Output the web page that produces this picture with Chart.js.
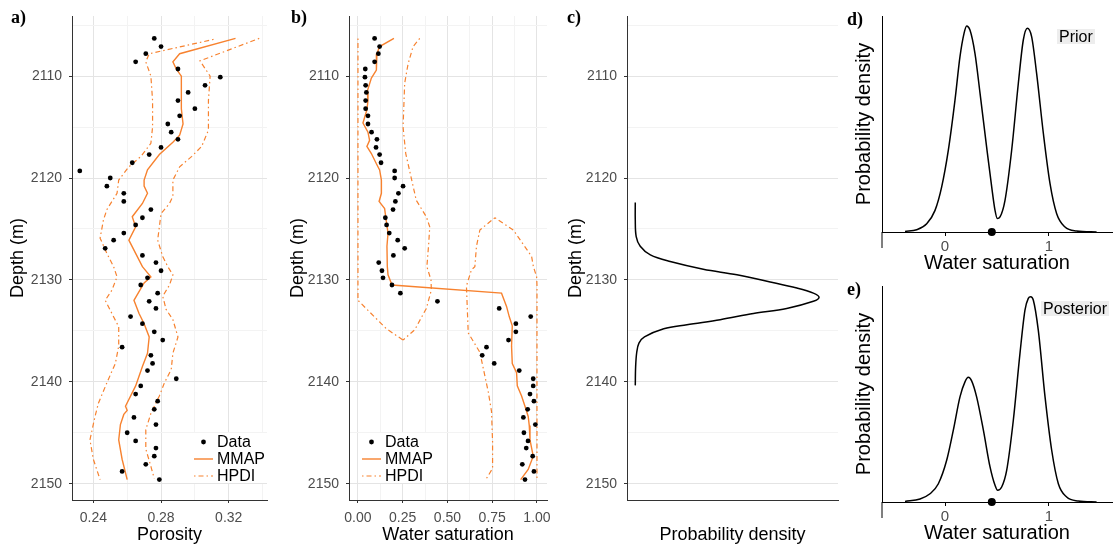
<!DOCTYPE html>
<html>
<head>
<meta charset="utf-8">
<script src="https://cdn.jsdelivr.net/npm/chart.js@4.4.1/dist/chart.umd.min.js"></script>
<style>
  body { margin: 0; background: #fff; width: 1119px; height: 547px; position: relative; overflow: hidden; font-family: "Liberation Sans", Arial, sans-serif; }
  canvas, .lab, .tag { position: absolute; }
  .lab { font-family: "Liberation Serif", "Times New Roman", serif; font-weight: bold; font-size: 18px; line-height: 18px; }
  .tag { background: #ededed; font-size: 16px; line-height: 15px; padding: 0 2px; }
</style>
</head>
<body>
<canvas id="pa" width="280" height="547" style="left:0;top:0"></canvas>
<canvas id="pb" width="280" height="547" style="left:280px;top:0"></canvas>
<canvas id="pc" width="280" height="547" style="left:560px;top:0"></canvas>
<canvas id="pd" width="279" height="276" style="left:840px;top:0"></canvas>
<canvas id="pe" width="279" height="276" style="left:840px;top:271px"></canvas>
<div class="lab" style="left:11px;top:8px">a)</div>
<div class="lab" style="left:291px;top:8px">b)</div>
<div class="lab" style="left:567px;top:8px">c)</div>
<div class="lab" style="left:847px;top:10px">d)</div>
<div class="lab" style="left:847px;top:280px">e)</div>
<div class="tag" style="left:1057px;top:29px">Prior</div>
<div class="tag" style="left:1041px;top:301px">Posterior</div>
<script>
// well log samples (depth in m)
const depth = [2106.3, 2107.1, 2107.8, 2108.6, 2109.3, 2110.1, 2110.9, 2111.6, 2112.4, 2113.2,
  2113.9, 2114.7, 2115.5, 2116.2, 2117.0, 2117.7, 2118.5, 2119.3, 2120.0, 2120.8,
  2121.5, 2122.3, 2123.1, 2123.9, 2124.6, 2125.4, 2126.1, 2126.9, 2127.6, 2128.3,
  2129.1, 2129.8, 2130.5, 2131.3, 2132.1, 2132.8, 2133.6, 2134.3, 2135.1, 2135.9,
  2136.6, 2137.4, 2138.2, 2138.9, 2139.7, 2140.4, 2141.2, 2141.9, 2142.7, 2143.5,
  2144.2, 2145.0, 2145.8, 2146.5, 2147.3, 2148.1, 2148.8, 2149.6];
const porosity = [0.276, 0.280, 0.271, 0.265, 0.290, 0.315, 0.306, 0.296, 0.290, 0.300,
  0.291, 0.284, 0.286, 0.290, 0.280, 0.273, 0.263, 0.232, 0.250, 0.248,
  0.258, 0.258, 0.274, 0.269, 0.265, 0.258, 0.252, 0.247, 0.269, 0.277,
  0.280, 0.272, 0.268, 0.278, 0.273, 0.277, 0.262, 0.269, 0.276, 0.281,
  0.257, 0.274, 0.275, 0.272, 0.289, 0.268, 0.265, 0.278, 0.276, 0.264,
  0.277, 0.260, 0.265, 0.277, 0.276, 0.271, 0.257, 0.279];
const waterSat = [0.093, 0.121, 0.114, 0.093, 0.041, 0.039, 0.043, 0.047, 0.043, 0.043,
  0.056, 0.056, 0.076, 0.106, 0.101, 0.121, 0.129, 0.205, 0.205, 0.252,
  0.226, 0.209, 0.196, 0.153, 0.160, 0.175, 0.222, 0.261, 0.198, 0.116,
  0.134, 0.140, 0.190, 0.237, 0.444, 0.789, 0.965, 0.882, 0.882, 0.841,
  0.718, 0.694, 0.761, 0.901, 0.979, 0.979, 0.961, 0.983, 0.948, 0.924,
  0.991, 0.927, 0.950, 0.940, 0.976, 0.918, 0.983, 0.933];

// [depth, value] pairs
const mmapPorosity = [[2106.3, 0.324], [2107.8, 0.291], [2108.6, 0.287], [2109.3, 0.289], [2110.0, 0.292],
  [2111.6, 0.292], [2113.2, 0.292], [2114.7, 0.293], [2115.8, 0.291], [2116.5, 0.287], [2117.7, 0.279],
  [2119.2, 0.272], [2120.2, 0.270], [2120.8, 0.270], [2121.5, 0.272], [2122.5, 0.269], [2123.8, 0.263],
  [2124.8, 0.265], [2126.1, 0.261], [2127.4, 0.265], [2128.7, 0.269], [2129.7, 0.274], [2130.3, 0.270],
  [2132.0, 0.264], [2133.3, 0.267], [2134.3, 0.270], [2135.6, 0.273], [2137.2, 0.272], [2138.5, 0.269],
  [2140.4, 0.265], [2142.4, 0.259], [2142.8, 0.260], [2143.2, 0.258], [2144.2, 0.256], [2145.7, 0.255],
  [2147.6, 0.257], [2149.6, 0.260]];
const hpdiPorosityLow = [[2106.4, 0.311], [2107.8, 0.273], [2108.6, 0.271], [2110.0, 0.274], [2112.4, 0.275],
  [2115.0, 0.275], [2116.6, 0.274], [2117.9, 0.268], [2118.9, 0.261], [2120.2, 0.255], [2121.5, 0.254],
  [2123.1, 0.248], [2124.1, 0.246], [2125.9, 0.244], [2127.4, 0.248], [2128.7, 0.252], [2129.7, 0.254],
  [2131.0, 0.251], [2132.0, 0.247], [2133.3, 0.251], [2134.6, 0.255], [2136.5, 0.255], [2138.2, 0.253],
  [2140.1, 0.248], [2142.1, 0.243], [2143.4, 0.241], [2145.7, 0.238], [2147.6, 0.240], [2149.6, 0.244]];
const hpdiPorosityHigh = [[2106.3, 0.338], [2108.5, 0.303], [2110.0, 0.309], [2112.4, 0.308], [2115.3, 0.308],
  [2116.9, 0.304], [2117.9, 0.298], [2118.9, 0.291], [2120.2, 0.287], [2121.8, 0.287], [2122.5, 0.285],
  [2123.5, 0.280], [2124.8, 0.279], [2126.1, 0.278], [2127.7, 0.281], [2128.7, 0.284], [2129.5, 0.287],
  [2130.5, 0.285], [2131.6, 0.281], [2132.9, 0.283], [2133.9, 0.287], [2135.6, 0.290], [2137.2, 0.287],
  [2138.8, 0.286], [2140.1, 0.282], [2141.4, 0.279], [2143.1, 0.274], [2144.7, 0.271], [2146.6, 0.271],
  [2148.3, 0.274], [2149.5, 0.276]];

const mmapWaterSat = [[2106.3, 0.201], [2107.1, 0.121], [2107.8, 0.106], [2109.4, 0.103], [2110.2, 0.075],
  [2111.5, 0.052], [2112.4, 0.056], [2113.3, 0.050], [2114.6, 0.028], [2115.5, 0.056], [2116.3, 0.065],
  [2116.9, 0.050], [2117.6, 0.075], [2118.6, 0.103], [2119.2, 0.121], [2120.2, 0.131], [2121.5, 0.131],
  [2122.3, 0.118], [2123.0, 0.149], [2123.8, 0.155], [2125.4, 0.168], [2126.7, 0.162], [2128.7, 0.164],
  [2129.5, 0.168], [2130.5, 0.190], [2131.3, 0.802], [2132.6, 0.830], [2133.6, 0.845], [2134.5, 0.862],
  [2136.5, 0.858], [2138.2, 0.862], [2139.1, 0.886], [2140.4, 0.890], [2141.4, 0.914], [2142.4, 0.933],
  [2143.4, 0.951], [2144.3, 0.957], [2145.7, 0.961], [2147.3, 0.979], [2148.6, 0.951], [2149.6, 0.909]];
const hpdiWaterSatLow1 = [[2106.3, 0.0], [2132.0, 0.0], [2134.8, 0.159], [2135.9, 0.252]];
const hpdiWaterSatHigh1 = [[2106.3, 0.345], [2107.1, 0.308], [2108.8, 0.280], [2110.7, 0.261], [2115.0, 0.252],
  [2117.6, 0.267], [2120.8, 0.308], [2122.2, 0.326], [2123.8, 0.382], [2124.8, 0.401], [2126.5, 0.395],
  [2128.7, 0.385], [2130.0, 0.408], [2131.0, 0.410], [2132.8, 0.382], [2134.9, 0.317], [2135.9, 0.252]];
const hpdiWaterSatLow2 = [[2123.9, 0.765], [2125.1, 0.681], [2126.7, 0.662], [2128.7, 0.653], [2129.0, 0.634],
  [2130.6, 0.606], [2135.2, 0.616], [2137.1, 0.681], [2141.0, 0.728], [2142.9, 0.746], [2145.9, 0.752],
  [2148.5, 0.752], [2149.6, 0.714]];
const hpdiWaterSatHigh2 = [[2123.9, 0.765], [2125.1, 0.868], [2127.7, 0.970], [2128.7, 0.980], [2129.7, 0.998],
  [2130.5, 1.0], [2149.6, 1.0]];

// panel c: density of the transition depth
const densityDepth = [2122.4, 2124.1, 2125.75, 2126.7, 2127.55, 2128.2, 2128.95, 2129.5, 2130.2, 2130.8,
  2131.3, 2131.7, 2132.1, 2132.8, 2133.3, 2133.9, 2134.4, 2134.8, 2135.6, 2136.2, 2137.1, 2138.5, 2140.35];
const densityValue = [0, 0, 0.005, 0.027, 0.082, 0.19, 0.37, 0.553, 0.734, 0.879,
  0.969, 1.0, 0.969, 0.824, 0.643, 0.462, 0.281, 0.155, 0.05, 0.02, 0.008, 0.002, 0];

// panels d, e: [water saturation, density]
const priorDensity = [[-0.385, 0.003], [-0.272, 0.011], [-0.176, 0.04], [-0.096, 0.105], [-0.032, 0.219],
  [0.032, 0.397], [0.096, 0.64], [0.144, 0.851], [0.183, 0.964], [0.208, 1.0], [0.24, 0.98], [0.288, 0.867],
  [0.337, 0.673], [0.40, 0.413], [0.449, 0.219], [0.481, 0.105], [0.503, 0.065], [0.529, 0.073], [0.577, 0.154],
  [0.641, 0.397], [0.705, 0.721], [0.753, 0.932], [0.792, 0.989], [0.833, 0.948], [0.881, 0.77], [0.946, 0.478],
  [1.01, 0.235], [1.074, 0.089], [1.154, 0.024], [1.266, 0.005], [1.458, 0]];
const posteriorDensity = [[-0.385, 0.003], [-0.24, 0.015], [-0.144, 0.04], [-0.064, 0.089], [0.016, 0.203],
  [0.08, 0.35], [0.144, 0.512], [0.192, 0.585], [0.224, 0.607], [0.256, 0.59], [0.304, 0.512], [0.369, 0.35],
  [0.433, 0.171], [0.481, 0.081], [0.506, 0.057], [0.545, 0.073], [0.593, 0.154], [0.657, 0.398], [0.721, 0.724],
  [0.769, 0.935], [0.801, 0.992], [0.824, 1.0], [0.849, 0.984], [0.897, 0.837], [0.962, 0.512], [1.026, 0.252],
  [1.09, 0.089], [1.17, 0.024], [1.282, 0.005], [1.458, 0]];
const measuredSw = [0.45];

// axis ticks
const depthTicks = [2105, 2110, 2115, 2120, 2125, 2130, 2135, 2140, 2145, 2150];
const depthMajor = [2110, 2120, 2130, 2140, 2150];
const porTicks = [0.24, 0.26, 0.28, 0.30, 0.32, 0.34];
const porMajor = [0.24, 0.28, 0.32];
const swTicks = [0, 0.125, 0.25, 0.375, 0.5, 0.625, 0.75, 0.875, 1];
const swMajor = [0, 0.25, 0.5, 0.75, 1];
const densSwTicks = [0, 1];

const orange = "#f7822f";
const dotdash = [1.5, 3, 5, 3];
const tickFont = { size: 14 };
const titleFont = { size: 18 };

Chart.defaults.font.family = "'Liberation Sans', Arial, sans-serif";
Chart.defaults.animation = false;

const toXY = (pairs) => pairs.map(([d, v]) => ({ x: v, y: d }));

function lineSet(pairs, dash, width) {
  return {
    data: toXY(pairs),
    showLine: true,
    borderColor: orange,
    borderWidth: width,
    borderDash: dash,
    pointRadius: 0,
    tension: 0,
  };
}

function pointSet(values) {
  return {
    data: depth.map((d, i) => ({ x: values[i], y: d })),
    pointRadius: 2.4,
    pointBackgroundColor: "#000",
    pointBorderWidth: 0,
  };
}

function gridColor(major) {
  return (c) => (major.includes(c.tick.value) ? "#e4e4e4" : "#f3f3f3");
}

function tickColor(major) {
  return (c) => (major.includes(c.tick.value) ? "#333" : "rgba(0,0,0,0)");
}

function depthAxis(width, titlePad) {
  return {
    min: 2104.1,
    max: 2151.6,
    reverse: true,
    afterBuildTicks: (s) => { s.ticks = depthTicks.map((v) => ({ value: v })); },
    afterFit: (s) => { s.width = width; },
    ticks: {
      autoSkip: false, padding: 7, color: "#4d4d4d", font: tickFont,
      callback: (v) => (depthMajor.includes(v) ? String(v) : ""),
    },
    grid: { color: gridColor(depthMajor), tickLength: 3, tickColor: tickColor(depthMajor) },
    border: { color: "#333", width: 1 },
    title: { display: true, text: "Depth (m)", color: "#000", font: titleFont, padding: { top: titlePad, bottom: 0 } },
  };
}

function valueAxis(min, max, all, major, digits, title) {
  return {
    type: "linear",
    min, max,
    afterBuildTicks: (s) => { s.ticks = all.map((v) => ({ value: v })); },
    afterFit: (s) => { s.height = 47; },
    ticks: {
      autoSkip: false, maxRotation: 0, padding: 7, color: "#4d4d4d", font: tickFont,
      callback: (v) => (major.includes(v) ? v.toFixed(digits) : ""),
    },
    grid: { color: gridColor(major), tickLength: 3, tickColor: tickColor(major) },
    border: { color: "#333", width: 1 },
    title: { display: true, text: title, color: "#000", font: titleFont, padding: { top: 0, bottom: 1 } },
  };
}

function legendPlugin(box) {
  return {
    id: "boxLegend",
    afterDraw(chart) {
      const c = chart.ctx;
      c.save();
      c.fillStyle = "#fff";
      c.fillRect(box.x, box.y, box.w, box.h);
      const rows = ["Data", "MMAP", "HPDI"];
      c.font = "16px 'Liberation Sans', Arial, sans-serif";
      c.textBaseline = "middle";
      rows.forEach((label, i) => {
        const y = box.y + 9 + i * 17;
        const x0 = box.x + 4, x1 = box.x + 23;
        if (i === 0) {
          c.fillStyle = "#000";
          c.beginPath();
          c.arc((x0 + x1) / 2, y, 2.4, 0, Math.PI * 2);
          c.fill();
        } else {
          c.strokeStyle = orange;
          c.lineWidth = i === 1 ? 1.4 : 1.2;
          c.setLineDash(i === 1 ? [] : dotdash);
          c.beginPath();
          c.moveTo(x0, y);
          c.lineTo(x1, y);
          c.stroke();
          c.setLineDash([]);
        }
        c.fillStyle = "#000";
        c.fillText(label, box.x + 27, y + 1);
      });
      c.restore();
    },
  };
}

const axisTail = {
  id: "axisTail",
  afterDraw(chart) {
    const { ctx, chartArea } = chart;
    ctx.save();
    ctx.strokeStyle = "#000";
    ctx.lineWidth = 1;
    ctx.beginPath();
    ctx.moveTo(chartArea.left, chartArea.bottom);
    ctx.lineTo(chartArea.left, chartArea.bottom + 16);
    ctx.stroke();
    ctx.restore();
  },
};

const baseOptions = (padding) => ({
  responsive: false,
  devicePixelRatio: 1,
  layout: { padding },
  plugins: { legend: { display: false }, tooltip: { enabled: false } },
});

// a) porosity
new Chart(document.getElementById("pa"), {
  type: "scatter",
  data: {
    datasets: [
      pointSet(porosity),
      lineSet(mmapPorosity, [], 1.4),
      lineSet(hpdiPorosityLow, dotdash, 1.2),
      lineSet(hpdiPorosityHigh, dotdash, 1.2),
    ],
  },
  options: {
    ...baseOptions({ top: 16, right: 13, bottom: 0, left: 0 }),
    scales: {
      x: valueAxis(0.2274, 0.3426, porTicks, porMajor, 2, "Porosity"),
      y: depthAxis(72, 7),
    },
  },
  plugins: [legendPlugin({ x: 190, y: 433, w: 77, h: 50 })],
});

// b) water saturation
new Chart(document.getElementById("pb"), {
  type: "scatter",
  data: {
    datasets: [
      pointSet(waterSat),
      lineSet(mmapWaterSat, [], 1.4),
      lineSet(hpdiWaterSatLow1, dotdash, 1.2),
      lineSet(hpdiWaterSatHigh1, dotdash, 1.2),
      lineSet(hpdiWaterSatLow2, dotdash, 1.2),
      lineSet(hpdiWaterSatHigh2, dotdash, 1.2),
    ],
  },
  options: {
    ...baseOptions({ top: 16, right: 13, bottom: 0, left: 0 }),
    scales: {
      x: valueAxis(-0.05, 1.056, swTicks, swMajor, 2, "Water saturation"),
      y: depthAxis(69, 7),
    },
  },
  plugins: [legendPlugin({ x: 78, y: 433, w: 70, h: 50 })],
});

// c) density of transition depth
new Chart(document.getElementById("pc"), {
  type: "scatter",
  data: {
    datasets: [{
      data: densityDepth.map((d, i) => ({ x: densityValue[i], y: d })),
      showLine: true,
      borderColor: "#000",
      borderWidth: 1.5,
      pointRadius: 0,
      tension: 0.35,
    }],
  },
  options: {
    ...baseOptions({ top: 16, right: 2, bottom: 0, left: 0 }),
    scales: {
      x: {
        min: -0.045, max: 1.103,
        afterFit: (s) => { s.height = 47; },
        ticks: { display: false },
        grid: { display: false },
        border: { color: "#333", width: 1 },
        title: { display: true, text: "Probability density", color: "#000", font: titleFont, padding: { top: 0, bottom: 1 } },
      },
      y: depthAxis(67, 5),
    },
  },
});

// d), e) prior / posterior densities
function densityChart(id, pairs, yMax, padTop, padBottom, xHeight) {
  new Chart(document.getElementById(id), {
    type: "scatter",
    data: {
      datasets: [
        {
          data: measuredSw.map((v) => ({ x: v, y: 0 })),
          pointRadius: 4,
          pointBackgroundColor: "#000",
          pointBorderWidth: 0,
          clip: false,
        },
        {
          data: pairs.map(([s, p]) => ({ x: s, y: p })),
          showLine: true,
          borderColor: "#000",
          borderWidth: 1.5,
          pointRadius: 0,
          cubicInterpolationMode: "monotone",
        },
      ],
    },
    options: {
      ...baseOptions({ top: padTop, right: 7, bottom: 0, left: 0 }),
      scales: {
        x: {
          min: -0.606, max: 1.606,
          afterBuildTicks: (s) => { s.ticks = densSwTicks.map((v) => ({ value: v })); },
          afterFit: (s) => { s.height = xHeight; },
          ticks: { autoSkip: false, maxRotation: 0, padding: 2, color: "#4d4d4d", font: { size: 15 }, callback: (v) => String(v) },
          grid: { display: true, drawOnChartArea: false, tickLength: 4, tickColor: "#000" },
          border: { color: "#000", width: 1 },
          title: { display: true, text: "Water saturation", color: "#000", font: { size: 20 }, padding: { top: 0, bottom: padBottom } },
        },
        y: {
          min: 0, max: yMax,
          afterFit: (s) => { s.width = 42; },
          ticks: { display: false },
          grid: { display: false },
          border: { color: "#000", width: 1 },
          title: { display: true, text: "Probability density", color: "#000", font: { size: 20 }, padding: { top: 12, bottom: 0 } },
        },
      },
    },
    plugins: [axisTail],
  });
}

densityChart("pd", priorDensity, 1.0485, 16, 1, 44);
densityChart("pe", posteriorDensity, 1.052, 15, 2, 45);
</script>
</body>
</html>
